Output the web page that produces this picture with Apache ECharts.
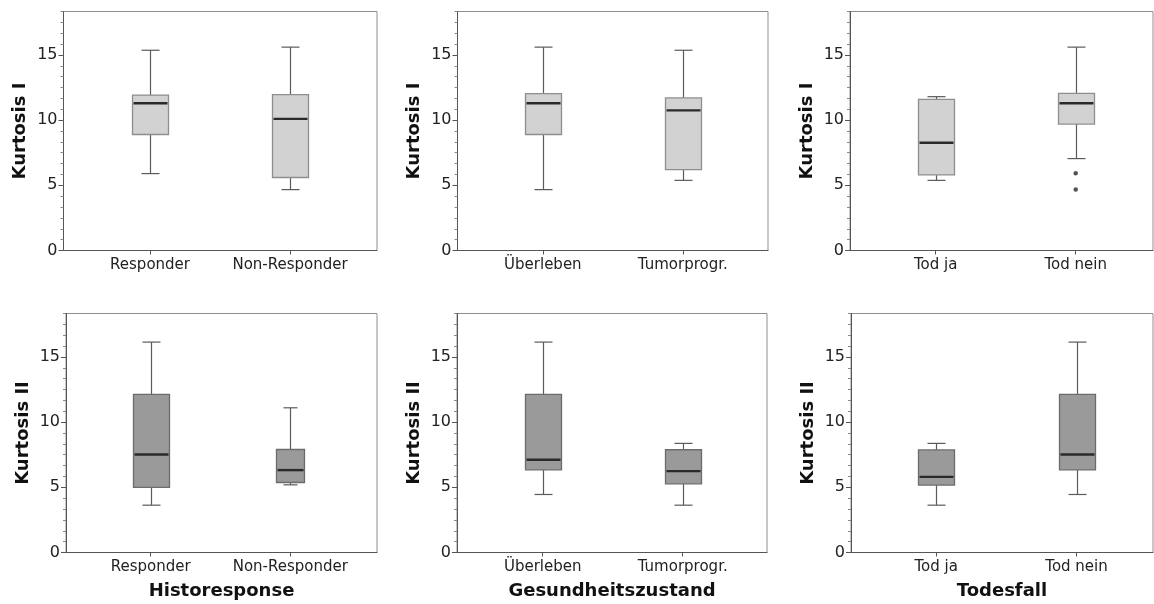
<!DOCTYPE html>
<html>
<head>
<meta charset="utf-8">
<script src="https://cdn.jsdelivr.net/npm/echarts@6/dist/echarts.min.js"></script>
<style>
html,body{margin:0;padding:0;background:#fff;}
#chart{width:1154px;height:604px;}
</style>
</head>
<body>
<div id="chart"></div>
<script>
// ---- data ----
const catsHisto = ['Responder', 'Non-Responder'];
const catsGesund = ['Überleben', 'Tumorprogr.'];
const catsTod = ['Tod ja', 'Tod nein'];
const groupTitles = ['Historesponse', 'Gesundheitszustand', 'Todesfall'];
const rowTitles = ['Kurtosis I', 'Kurtosis II'];
const yTickValues = [0, 5, 10, 15];
// box stats: [min, Q1, median, Q3, max]
const k1Histo = [[5.9, 8.9, 11.3, 11.92, 15.36], [4.67, 5.6, 10.1, 11.95, 15.6]];
const k1Gesund = [[4.67, 8.9, 11.3, 12.03, 15.6], [5.38, 6.2, 10.75, 11.7, 15.36]];
const k1Tod = [[5.38, 5.8, 8.26, 11.6, 11.8], [7.05, 9.7, 11.3, 12.05, 15.6]];
const k1TodOutliers = [[1, 5.92], [1, 4.67]];
const k2Histo = [[3.63, 4.99, 7.52, 12.13, 16.14], [5.19, 5.37, 6.32, 7.9, 11.1]];
const k2Gesund = [[4.45, 6.34, 7.11, 12.13, 16.14], [3.63, 5.27, 6.24, 7.88, 8.37]];
const k2Tod = [[3.63, 5.17, 5.8, 7.87, 8.37], [4.45, 6.34, 7.52, 12.13, 16.14]];

// ---- layout / style ----
const Y_MAX = 22 * 5 / 6;
const FONT = '"DejaVu Sans", sans-serif';
const panels = [
  {cats: catsHisto, stats: k1Histo, row: 0, col: 0, grid: {left: 63.5, top: 11.5, width: 313.5, height: 239}, xr: [-0.618, 1.621]},
  {cats: catsGesund, stats: k1Gesund, row: 0, col: 1, grid: {left: 457.5, top: 11.5, width: 310.5, height: 239}, xr: [-0.61, 1.609]},
  {cats: catsTod, stats: k1Tod, row: 0, col: 2, grid: {left: 850, top: 11.5, width: 303, height: 239}, xr: [-0.612, 1.552], outliers: k1TodOutliers},
  {cats: catsHisto, stats: k2Histo, row: 1, col: 0, grid: {left: 66, top: 313.5, width: 311, height: 239}, xr: [-0.607, 1.621], widths: [36, 28]},
  {cats: catsGesund, stats: k2Gesund, row: 1, col: 1, grid: {left: 457, top: 313.5, width: 310, height: 239}, xr: [-0.612, 1.602]},
  {cats: catsTod, stats: k2Tod, row: 1, col: 2, grid: {left: 851, top: 313.5, width: 302, height: 239}, xr: [-0.607, 1.545]}
];
const fills = ['#d2d2d2', '#9a9a9a'];
const borders = ['#8e8e8e', '#6c6c6c'];

const grids = [], xAxes = [], yAxes = [], series = [];
panels.forEach(function (p, i) {
  grids.push(Object.assign({show: true, borderColor: '#8e8e8e', borderWidth: 1, containLabel: false}, p.grid));
  xAxes.push({
    gridIndex: i, type: 'value', min: p.xr[0], max: p.xr[1],
    axisLine: {show: true, onZero: false, lineStyle: {color: '#555', width: 1}},
    axisTick: {show: true, length: 4, customValues: [0, 1], lineStyle: {color: '#555'}},
    axisLabel: {show: true, customValues: [0, 1], margin: 7, color: '#222', fontFamily: FONT, fontSize: 15,
      formatter: (function (cats) { return function (v) { return cats[Math.round(v)] || ''; }; })(p.cats)},
    splitLine: {show: false},
    name: p.row === 1 ? groupTitles[p.col] : '',
    nameLocation: 'middle', nameGap: 30,
    nameTextStyle: {fontFamily: FONT, fontSize: 18, fontWeight: 'bold', color: '#111'}
  });
  // minor ticks axis
  yAxes.push({
    gridIndex: i, type: 'value', position: 'left', min: 0, max: Y_MAX, interval: 5 / 6,
    axisLine: {show: true, onZero: false, lineStyle: {color: '#555', width: 1}},
    axisTick: {show: true, length: 3, lineStyle: {color: '#888'}},
    axisLabel: {show: false}, splitLine: {show: false}
  });
  // major ticks + labels axis
  yAxes.push({
    gridIndex: i, type: 'value', position: 'left', min: 0, max: Y_MAX, interval: 5,
    axisLine: {show: false, onZero: false},
    axisTick: {show: true, length: 5, customValues: yTickValues, lineStyle: {color: '#555'}},
    axisLabel: {show: true, customValues: yTickValues, margin: 6, color: '#222', fontFamily: FONT, fontSize: 16},
    splitLine: {show: false},
    name: rowTitles[p.row], nameLocation: 'middle', nameGap: 34,
    nameTextStyle: {fontFamily: FONT, fontSize: 18, fontWeight: 'bold', color: '#111'}
  });
  const widths = p.widths || [36, 36];
  series.push({
    type: 'custom', xAxisIndex: i, yAxisIndex: 2 * i + 1,
    encode: {x: 0, y: [1, 2, 3, 4, 5]},
    data: p.stats.map(function (s, k) { return [k].concat(s); }),
    renderItem: function (params, api) {
      const x = api.value(0);
      const lo = api.coord([x, api.value(1)]);
      const q1 = api.coord([x, api.value(2)]);
      const md = api.coord([x, api.value(3)]);
      const q3 = api.coord([x, api.value(4)]);
      const hi = api.coord([x, api.value(5)]);
      const w = widths[params.dataIndex];
      const cw = w / 2;
      const cx = Math.round(lo[0]) + 0.5;
      const wl = {stroke: '#5a5a5a', lineWidth: 1.2};
      return {type: 'group', children: [
        {type: 'line', shape: {x1: cx, y1: hi[1], x2: cx, y2: q3[1]}, style: wl},
        {type: 'line', shape: {x1: cx, y1: q1[1], x2: cx, y2: lo[1]}, style: wl},
        {type: 'line', shape: {x1: cx - cw / 2, y1: hi[1], x2: cx + cw / 2, y2: hi[1]}, style: wl},
        {type: 'line', shape: {x1: cx - cw / 2, y1: lo[1], x2: cx + cw / 2, y2: lo[1]}, style: wl},
        {type: 'rect', shape: {x: cx - w / 2, y: q3[1], width: w, height: q1[1] - q3[1]},
          style: {fill: fills[p.row], stroke: borders[p.row], lineWidth: 1.3}},
        {type: 'line', shape: {x1: cx - w / 2 + 1, y1: md[1], x2: cx + w / 2 - 1, y2: md[1]},
          style: {stroke: '#2a2a2a', lineWidth: 2.4}}
      ]};
    },
    silent: true, animation: false
  });
  if (p.outliers) {
    series.push({
      type: 'scatter', xAxisIndex: i, yAxisIndex: 2 * i + 1,
      data: p.outliers, symbol: 'circle', symbolSize: 4.5,
      itemStyle: {color: '#2a2a2a'}, silent: true, animation: false
    });
  }
});

const chart = echarts.init(document.getElementById('chart'), null, {renderer: 'canvas'});
chart.setOption({
  backgroundColor: '#fff',
  animation: false,
  grid: grids, xAxis: xAxes, yAxis: yAxes, series: series
});
</script>
</body>
</html>
